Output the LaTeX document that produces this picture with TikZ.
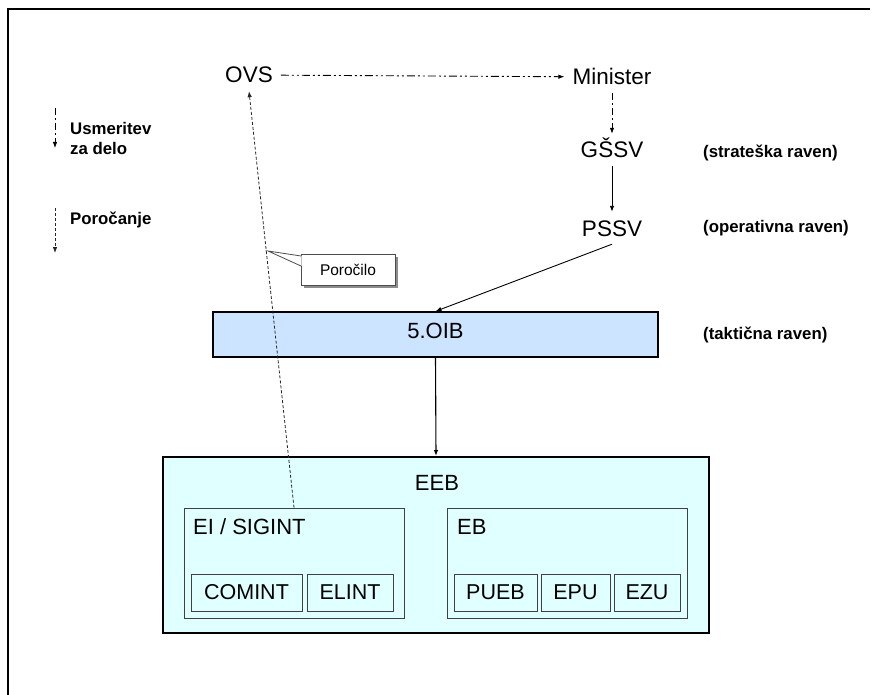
\documentclass[tikz,border=0pt]{standalone}
\usepackage{fontspec}
\setmainfont{Liberation Sans}
\usetikzlibrary{arrows.meta}
\definecolor{oibfill}{RGB}{204,228,255}
\definecolor{eebfill}{RGB}{224,255,255}
\begin{document}
\begin{tikzpicture}[x=1pt,y=-1pt,
  big/.style={font=\fontsize{22.5}{24}\selectfont, text height=16pt, text depth=0pt, inner sep=8pt},
  lev/.style={font=\bfseries\fontsize{16.8}{18}\selectfont, anchor=west, inner sep=0pt},
  unit/.style={draw=black!75, line width=0.8pt, fill=eebfill, minimum height=37pt, inner sep=0pt, font=\fontsize{21.5}{23}\selectfont},
  grp/.style={draw=black!75, line width=0.8pt, fill=eebfill, inner sep=0pt},
  tip/.style={-{Latex[length=6pt,width=4.5pt]}},
  ddot/.style={dash pattern=on 8pt off 3pt on 2pt off 3pt on 2pt off 3pt},
  dsh/.style={dash pattern=on 7pt off 3pt on 2pt off 3pt},
  rep/.style={dash pattern=on 3pt off 2pt, black!85}
]
\useasboundingbox (0,0) rectangle (872,695);
\fill[white] (0,0) rectangle (872,695);
% frame
\draw[line width=2pt] (8,695) -- (8,9.5) -- (870,9.5);

% top nodes
\node[big] (ovs) at (249,75) {OVS};
\node[big] (min) at (612,77) {Minister};
\node[big] (gssv) at (612,150) {GŠSV};
\node[big] (pssv) at (612,228) {PSSV};

% level labels
\node[lev] (l1) at (703,153) {(strateška raven)};
\node[lev] (l2) at (703,228) {(operativna raven)};
\node[lev] (l3) at (703,335) {(taktična raven)};

% legend
\coordinate (u1) at (55,108);
\coordinate (u2) at (55,148);
\draw[tip,dsh,line width=0.8pt] (u1) -- (u2);
\node[lev] (lu1) at (70,128) {Usmeritev};
\node[lev] (lu2) at (70,148) {za delo};
\coordinate (p1) at (55,208);
\coordinate (p2) at (55,253);
\draw[tip,rep,line width=0.8pt] (p1) -- (p2);
\node[lev] (lp) at (70,220) {Poročanje};

% 5.OIB
\node[draw, line width=1.4pt, fill=oibfill, minimum width=445pt, minimum height=45pt, inner sep=0pt] (oib) at (435.5,334.5) {};
\node[font=\fontsize{22}{23}\selectfont, inner sep=0pt] (oibt) at (435.5,331) {5.OIB};

% EEB
\node[draw, line width=2pt, fill=eebfill, minimum width=546pt, minimum height=176pt, inner sep=0pt] (eeb) at (436,545) {};
\node[font=\fontsize{22}{23}\selectfont, inner sep=0pt] (eebt) at (437,483) {EEB};

\node[grp, minimum width=220pt, minimum height=110pt] (sig) at (294,563) {};
\node[font=\fontsize{22}{23}\selectfont, inner sep=0pt, anchor=west] (sigt) at (193,527) {EI / SIGINT};
\node[unit, minimum width=111pt] (comint) at (246.5,592.5) {COMINT};
\node[unit, minimum width=86pt] (elint) at (350,592.5) {ELINT};

\node[grp, minimum width=240pt, minimum height=110pt] (eb) at (567,563) {};
\node[font=\fontsize{22}{23}\selectfont, inner sep=0pt, anchor=west] (ebt) at (457,527) {EB};
\node[unit, minimum width=83pt] (pueb) at (495.5,592.5) {PUEB};
\node[unit, minimum width=69pt] (epu) at (575.5,592.5) {EPU};
\node[unit, minimum width=66pt] (ezu) at (647,592.5) {EZU};

% connectors
\draw[tip,ddot,line width=0.9pt] (ovs) -- (min);
\draw[tip,dsh,line width=0.9pt] (min) -- (gssv);
\draw[tip,line width=0.9pt] (gssv) -- (pssv);
\draw[tip,line width=0.9pt] (pssv.south) -- (oib.north);
\draw[tip,line width=1.1pt] (oib.south) -- (eeb.north);
\draw[tip,rep,line width=0.8pt] (sig.north) -- (ovs.south);

% callout
\coordinate (ct) at (268,251);
\fill[black!45] (304,257) rectangle (398,288);
\node[draw=black!70, line width=0.8pt, fill=white, minimum width=94pt, minimum height=31pt, inner sep=0pt, font=\fontsize{15.5}{17}\selectfont] (call) at (348,269.5) {Poročilo};
\fill[white] (ct) -- (301.6,256) -- (301.6,266) -- cycle;
\draw[black!70, line width=0.8pt] (301,256) -- (ct) -- (301,266);
\end{tikzpicture}
\end{document}
